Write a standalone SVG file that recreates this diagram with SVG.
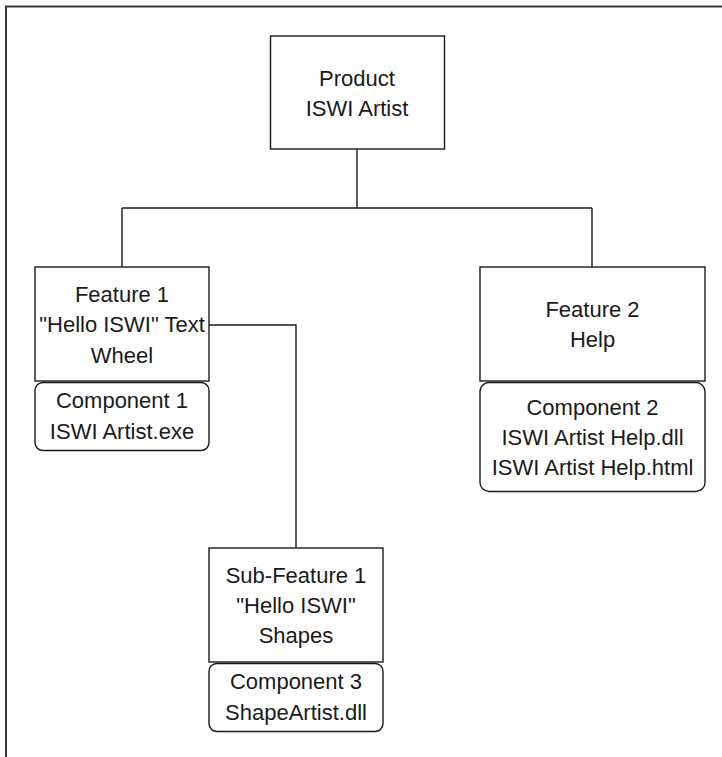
<svg xmlns="http://www.w3.org/2000/svg" width="722" height="757" viewBox="0 0 722 757">
<style>
.box{fill:#fff;stroke:#1a1a1a;stroke-width:1.4}
.comp{fill:#fff;stroke:#1a1a1a;stroke-width:1.4}
.frame{fill:none;stroke:#3a3a3a;stroke-width:2}
.conn{fill:none;stroke:#1a1a1a;stroke-width:1.4}
text{font-family:"Liberation Sans",Arial,sans-serif;font-size:22px;fill:#1a1a1a;text-anchor:middle}
</style>
<rect width="722" height="757" fill="#fff"/>
<rect class="frame" x="6" y="6.5" width="760" height="800"/>
<g id="connectors">
<path class="conn" d="M357 149 V208 M122 208 H592 M122 208 V267 M592 208 V267"/>
<path class="conn" d="M209 325 H296 V548"/>
</g>
<g id="product">
<rect class="box" x="270.5" y="36" width="174" height="113"/>
<text x="357" y="86">Product</text>
<text x="357" y="116">ISWI Artist</text>
</g>
<g id="feature1">
<rect class="box" x="35" y="267" width="174" height="114"/>
<text x="122" y="302">Feature 1</text>
<text x="122" y="332">"Hello ISWI" Text</text>
<text x="122" y="363">Wheel</text>
</g>
<g id="component1">
<rect class="comp" x="35" y="382.5" width="174" height="68" rx="8" ry="8"/>
<text x="122" y="408">Component 1</text>
<text x="122" y="439">ISWI Artist.exe</text>
</g>
<g id="feature2">
<rect class="box" x="480" y="267" width="225" height="114"/>
<text x="592.5" y="317">Feature 2</text>
<text x="592.5" y="347">Help</text>
</g>
<g id="component2">
<rect class="comp" x="480" y="382.5" width="225" height="109" rx="9" ry="9"/>
<text x="592.5" y="415">Component 2</text>
<text x="592.5" y="445">ISWI Artist Help.dll</text>
<text x="592.5" y="475">ISWI Artist Help.html</text>
</g>
<g id="subfeature1">
<rect class="box" x="209" y="548" width="174" height="114"/>
<text x="296" y="583">Sub-Feature 1</text>
<text x="296" y="613">"Hello ISWI"</text>
<text x="296" y="643">Shapes</text>
</g>
<g id="component3">
<rect class="comp" x="209" y="663.5" width="174" height="68" rx="8" ry="8"/>
<text x="296" y="689">Component 3</text>
<text x="296" y="720">ShapeArtist.dll</text>
</g>
</svg>
